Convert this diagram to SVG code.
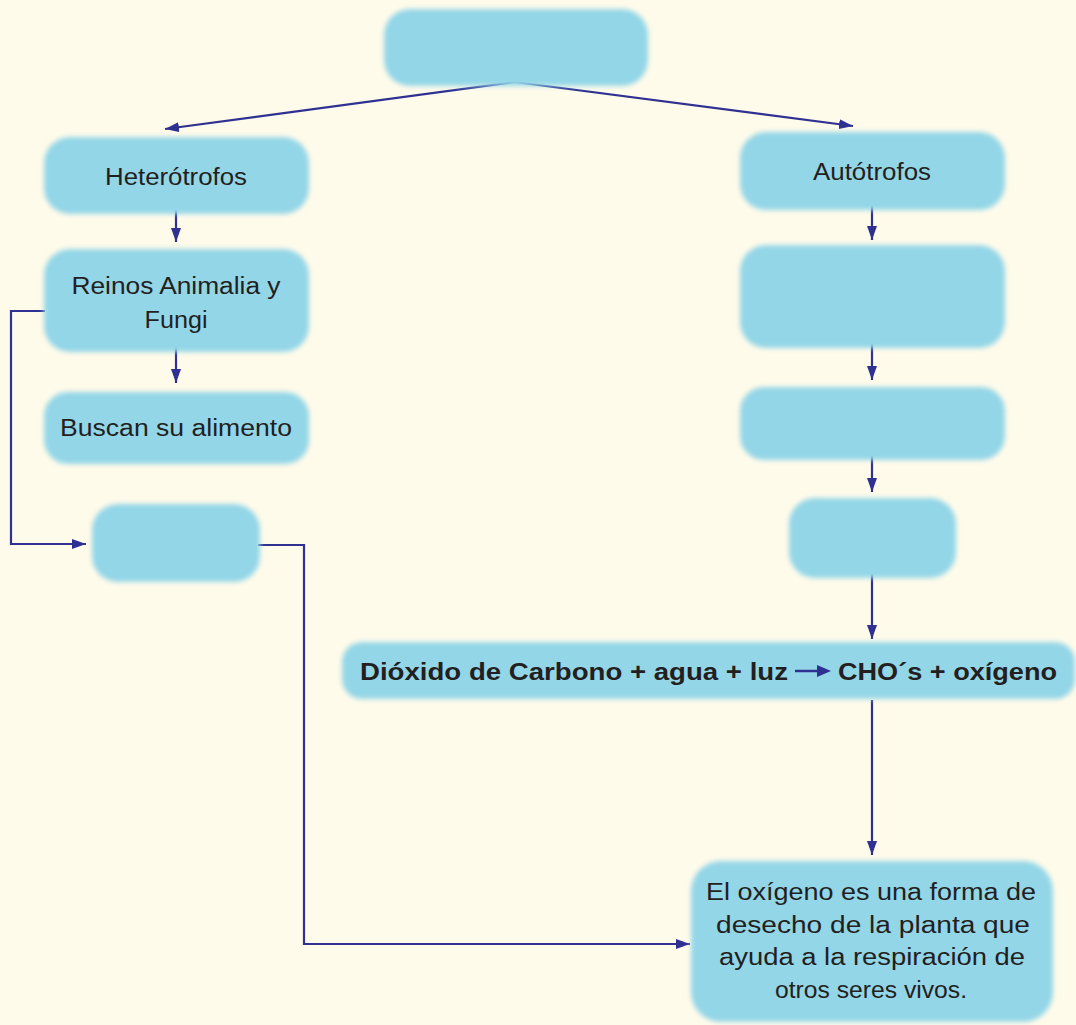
<svg xmlns="http://www.w3.org/2000/svg" width="1076" height="1025" viewBox="0 0 1076 1025">
<style>
.box{fill:#93d6e8;filter:url(#soft)}
.t{font-family:"Liberation Sans",Arial,sans-serif;font-size:23px;fill:#231f20;text-anchor:middle}
.b{font-family:"Liberation Sans",Arial,sans-serif;font-size:23px;font-weight:bold;fill:#231f20}
.c{fill:none;stroke:#2e3192;stroke-width:2.2}
</style>
<defs>
<filter id="soft" x="-5%" y="-10%" width="110%" height="120%"><feGaussianBlur stdDeviation="2.5"/></filter>
<marker id="ah" viewBox="0 0 14 10" refX="14" refY="5" markerWidth="14" markerHeight="10" markerUnits="userSpaceOnUse" orient="auto"><path d="M0,0 L14,5 L0,10 Z" fill="#2e3192"/></marker>
</defs>
<rect width="1076" height="1025" fill="#fffbea"/>
<g id="connectors">
<path class="c" d="M515,82 L165,129" marker-end="url(#ah)"/>
<path class="c" d="M515,82 L853,126" marker-end="url(#ah)"/>
<path class="c" d="M176,210 L176,242" marker-end="url(#ah)"/>
<path class="c" d="M176,346 L176,383" marker-end="url(#ah)"/>
<path class="c" d="M45,311 L11,311 L11,544 L86,544" marker-end="url(#ah)"/>
<path class="c" d="M258,545 L304,545 L304,944 L690,944" marker-end="url(#ah)"/>
<path class="c" d="M872,205 L872,240" marker-end="url(#ah)"/>
<path class="c" d="M872,342 L872,380" marker-end="url(#ah)"/>
<path class="c" d="M872,455 L872,492" marker-end="url(#ah)"/>
<path class="c" d="M872,574 L872,639" marker-end="url(#ah)"/>
<path class="c" d="M872,700 L872,855" marker-end="url(#ah)"/>
</g>
<g id="n-top"><rect class="box" x="384" y="9" width="264" height="77" rx="26"/></g>
<g id="n-heterotrofos"><rect class="box" x="44" y="137" width="265" height="77" rx="26"/><text class="t" x="176" y="185" textLength="142" lengthAdjust="spacingAndGlyphs">Heterótrofos</text></g>
<g id="n-reinos"><rect class="box" x="44" y="249" width="265" height="103" rx="26"/><text class="t" x="176" y="294" textLength="209" lengthAdjust="spacingAndGlyphs">Reinos Animalia y</text><text class="t" x="176" y="328" textLength="63" lengthAdjust="spacingAndGlyphs">Fungi</text></g>
<g id="n-buscan"><rect class="box" x="44" y="392" width="265" height="72" rx="24"/><text class="t" x="176" y="436" textLength="232" lengthAdjust="spacingAndGlyphs">Buscan su alimento</text></g>
<g id="n-left-empty"><rect class="box" x="92" y="504" width="168" height="78" rx="26"/></g>
<g id="n-autotrofos"><rect class="box" x="740" y="132" width="265" height="78" rx="26"/><text class="t" x="872" y="180" textLength="118" lengthAdjust="spacingAndGlyphs">Autótrofos</text></g>
<g id="n-right1"><rect class="box" x="740" y="245" width="265" height="103" rx="26"/></g>
<g id="n-right2"><rect class="box" x="740" y="387" width="265" height="73" rx="24"/></g>
<g id="n-right3"><rect class="box" x="789" y="498" width="167" height="80" rx="26"/></g>
<g id="n-equation"><rect class="box" x="342" y="642" width="733" height="57" rx="20"/>
<text class="b" x="360" y="680" textLength="428" lengthAdjust="spacingAndGlyphs">Dióxido de Carbono + agua + luz</text>
<path d="M795,671 L820,671" stroke="#2e3192" stroke-width="2.5"/><path d="M817,665 L831,671 L817,677 Z" fill="#2e3192"/>
<text class="b" x="838" y="680" textLength="219" lengthAdjust="spacingAndGlyphs">CHO´s + oxígeno</text></g>
<g id="n-bottom"><rect class="box" x="691" y="861" width="362" height="161" rx="30"/>
<text class="t" x="871" y="900" textLength="330" lengthAdjust="spacingAndGlyphs">El oxígeno es una forma de</text>
<text class="t" x="873" y="933" textLength="314" lengthAdjust="spacingAndGlyphs">desecho de la planta que</text>
<text class="t" x="872" y="965" textLength="306" lengthAdjust="spacingAndGlyphs">ayuda a la respiración de</text>
<text class="t" x="871" y="998" textLength="192" lengthAdjust="spacingAndGlyphs">otros seres vivos.</text></g>
</svg>
